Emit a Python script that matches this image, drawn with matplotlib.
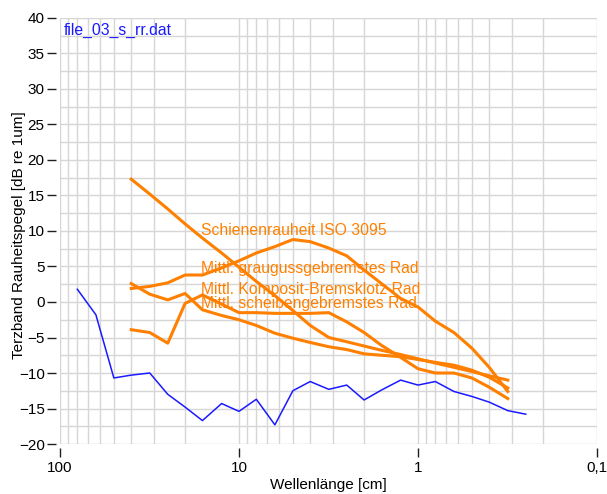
import matplotlib
matplotlib.use("Agg")
import matplotlib.pyplot as plt
from matplotlib.ticker import FixedLocator, NullFormatter

plt.rcParams['font.family'] = ['Liberation Sans', 'DejaVu Sans']

# Third-octave wavelengths [cm]
wl_meas = [80, 63, 50, 40, 31.5, 25, 20, 16, 12.5, 10, 8, 6.3, 5, 4, 3.15, 2.5, 2,
           1.6, 1.25, 1, 0.8, 0.63, 0.5, 0.4, 0.315, 0.25]
meas = [1.8, -1.8, -10.7, -10.3, -10.0, -13.0, -14.8, -16.7, -14.3, -15.4, -13.7, -17.3,
        -12.5, -11.2, -12.3, -11.7, -13.8, -12.4, -11.0, -11.7, -11.2, -12.6, -13.3,
        -14.1, -15.3, -15.8]

wl_ref = [40, 31.5, 25, 20, 16, 12.5, 10, 8, 6.3, 5, 4, 3.15, 2.5, 2, 1.6, 1.25, 1,
          0.8, 0.63, 0.5, 0.4, 0.315]
iso3095 = [17.3, 15.2, 13.1, 11.0, 9.0, 6.9, 4.9, 2.9, 0.9, -1.2, -3.3, -5.0, -5.6, -6.2,
           -6.8, -7.4, -8.0, -8.6, -9.2, -9.8, -10.4, -11.0]
grauguss = [1.9, 2.2, 2.7, 3.8, 3.8, 4.8, 5.8, 6.9, 7.8, 8.8, 8.5, 7.6, 6.5, 4.5, 2.6, 0.5,
            -0.7, -2.7, -4.3, -6.5, -9.2, -12.6]
komposit = [2.6, 1.1, 0.3, 1.2, -1.1, -1.9, -2.5, -3.3, -4.4, -5.1, -5.7, -6.3, -6.7, -7.3,
            -7.5, -7.7, -8.1, -8.5, -8.9, -9.6, -10.6, -12.1]
scheiben = [-3.9, -4.3, -5.8, -0.2, 1.0, -0.3, -1.5, -1.5, -1.6, -1.6, -1.6, -1.5, -2.8,
            -4.3, -6.1, -7.8, -9.4, -10.0, -10.0, -10.7, -12.0, -13.6]

labels = ["Schienenrauheit ISO 3095", "Mittl. graugussgebremstes Rad",
          "Mittl. Komposit-Bremsklotz Rad", "Mittl. scheibengebremstes Rad"]
label_y = [10.0, 4.7, 1.8, -0.2]

xticks = [100, 10, 1, 0.1]
xticklabels = ["100", "10", "1", "0,1"]
yticks = [-20, -15, -10, -5, 0, 5, 10, 15, 20, 25, 30, 35, 40]

orange = "#ff8000"
blue = "#1a1aff"
gridc = "#d6d6d6"

fig = plt.figure(figsize=(6.07, 4.94), dpi=100)
ax = fig.add_axes([0.0988, 0.1012, 0.8847, 0.8624])
ax.set_xscale('log')
ax.set_xlim(100, 0.1)
ax.set_ylim(-20, 40)

for s in ax.spines.values():
    s.set_visible(False)
    s.set_position(('outward', 3))

ax.xaxis.set_major_locator(FixedLocator(xticks))
ax.set_xticklabels(xticklabels)
minor_x = [m * 10.0 ** e for e in range(-1, 2) for m in range(2, 10)]
ax.xaxis.set_minor_locator(FixedLocator(minor_x))
ax.xaxis.set_minor_formatter(NullFormatter())
ax.yaxis.set_major_locator(FixedLocator(yticks))
ax.yaxis.set_minor_locator(FixedLocator([v + 2.5 for v in yticks[:-1]]))

ax.grid(True, which='both', color=gridc, linewidth=1.0)
ax.set_axisbelow(True)
ax.tick_params(which='minor', length=0)
ax.tick_params(which='major', length=6.5, width=1.0, color='#202020', labelsize=11,
               direction='out', pad=1.5)
ax.tick_params(axis='x', which='major', pad=3)

ax.plot(wl_meas, meas, color=blue, lw=1.1)
for ys in (iso3095, grauguss, komposit, scheiben):
    ax.plot(wl_ref, ys, color=orange, lw=2.2, solid_joinstyle='round')

for lab, yy in zip(labels, label_y):
    ax.text(16.2, yy, lab, color=orange, fontsize=11.3, va='center', ha='left')

ax.text(0.007, 0.988, "file_03_s_rr.dat", transform=ax.transAxes, color=blue,
        fontsize=11.3, va='top', ha='left')

ax.set_xlabel("Wellenlänge [cm]", fontsize=11, labelpad=2)
ax.set_ylabel("Terzband Rauheitspegel [dB re 1um]", fontsize=11, va='center')
ax.yaxis.set_label_coords(-0.076, 0.49)

fig.savefig("out.png", dpi=100)
